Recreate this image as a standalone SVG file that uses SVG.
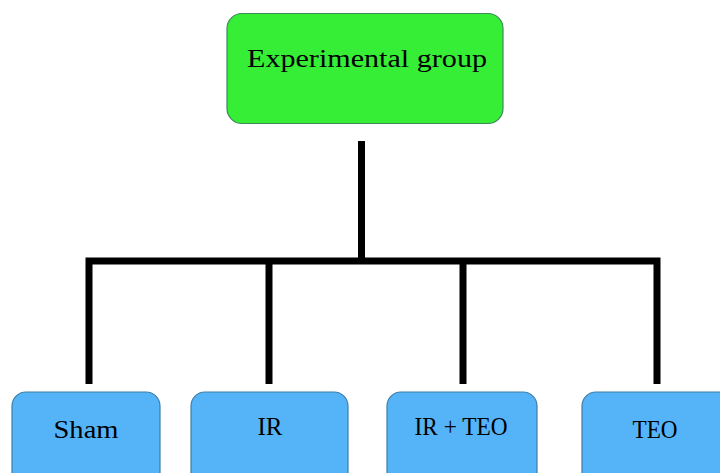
<svg xmlns="http://www.w3.org/2000/svg" width="720" height="473" viewBox="0 0 720 473">
<style>
.top{fill:#37ee37;stroke:#3a8a5a;stroke-width:1.2}
.leaf{fill:#55b4f8;stroke:#3d7ea8;stroke-width:1.2}
.lbl{font-family:"Liberation Serif",serif;font-size:26px;fill:#000;text-anchor:middle}
.con{stroke:#000;stroke-width:7;fill:none;stroke-linejoin:miter}
</style>
<rect width="720" height="473" fill="#fff"/>
<g id="connectors">
<path class="con" d="M361.5,141 V261"/>
<path class="con" d="M89,384 V261 H657 V384"/>
<path class="con" d="M269,261 V384"/>
<path class="con" d="M463,261 V384"/>
</g>
<g id="experimental-group">
<rect class="top" x="227" y="13.5" width="276" height="110" rx="15"/>
<text class="lbl" x="367" y="67" textLength="240" lengthAdjust="spacingAndGlyphs">Experimental group</text>
</g>
<g id="sham">
<rect class="leaf" x="12" y="392" width="148" height="100" rx="14"/>
<text class="lbl" x="86" y="438" textLength="65" lengthAdjust="spacingAndGlyphs">Sham</text>
</g>
<g id="ir">
<rect class="leaf" x="191" y="392" width="157" height="100" rx="14"/>
<text class="lbl" x="270" y="435" textLength="25" lengthAdjust="spacingAndGlyphs">IR</text>
</g>
<g id="ir-teo">
<rect class="leaf" x="387" y="392" width="150" height="100" rx="14"/>
<text class="lbl" x="461" y="435" textLength="93" lengthAdjust="spacingAndGlyphs">IR + TEO</text>
</g>
<g id="teo">
<rect class="leaf" x="582" y="392" width="150" height="100" rx="14"/>
<text class="lbl" x="655" y="438" textLength="45" lengthAdjust="spacingAndGlyphs">TEO</text>
</g>
</svg>
